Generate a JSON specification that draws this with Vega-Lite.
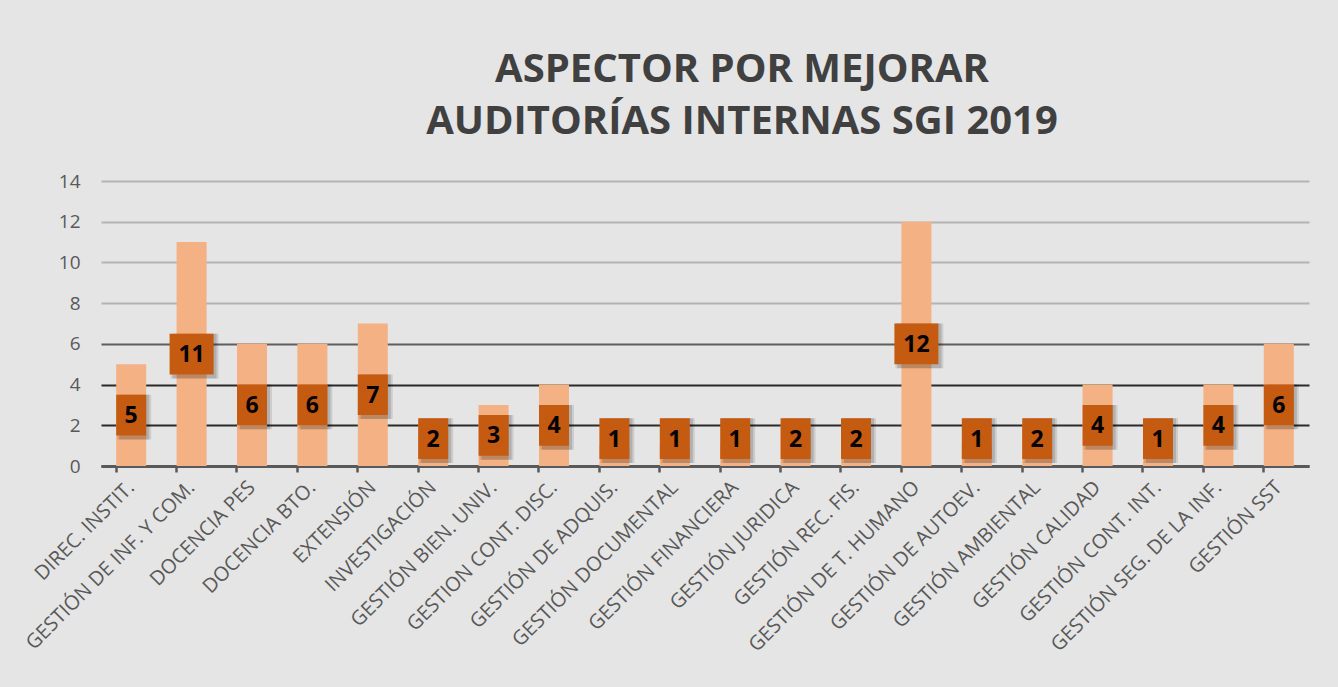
{
  "$schema": "https://vega.github.io/schema/vega-lite/v6.json",
  "width": 1208,
  "height": 285,
  "autosize": "none",
  "padding": {"left": 101, "top": 181, "right": 29, "bottom": 221},
  "background": "#e5e5e5",
  "title": {
    "text": ["ASPECTOR POR MEJORAR", "AUDITORÍAS INTERNAS SGI 2019"],
    "font": "Open Sans",
    "fontSize": 40,
    "fontWeight": "bold",
    "color": "#404040",
    "lineHeight": 52,
    "anchor": "middle",
    "dx": 37,
    "offset": 30
  },
  "data": {
    "values": [
      {"area": "DIREC. INSTIT.", "value": 5},
      {"area": "GESTIÓN DE INF. Y COM.", "value": 11},
      {"area": "DOCENCIA PES", "value": 6},
      {"area": "DOCENCIA BTO.", "value": 6},
      {"area": "EXTENSIÓN", "value": 7},
      {"area": "INVESTIGACIÓN", "value": 2},
      {"area": "GESTIÓN BIEN. UNIV.", "value": 3},
      {"area": "GESTION CONT. DISC.", "value": 4},
      {"area": "GESTIÓN DE ADQUIS.", "value": 1},
      {"area": "GESTIÓN DOCUMENTAL", "value": 1},
      {"area": "GESTIÓN FINANCIERA", "value": 1},
      {"area": "GESTIÓN JURIDICA", "value": 2},
      {"area": "GESTIÓN REC. FIS.", "value": 2},
      {"area": "GESTIÓN DE T. HUMANO", "value": 12},
      {"area": "GESTIÓN DE AUTOEV.", "value": 1},
      {"area": "GESTIÓN AMBIENTAL", "value": 2},
      {"area": "GESTIÓN CALIDAD", "value": 4},
      {"area": "GESTIÓN CONT. INT.", "value": 1},
      {"area": "GESTIÓN SEG. DE LA INF.", "value": 4},
      {"area": "GESTIÓN SST", "value": 6}
    ]
  },
  "transform": [
    {"calculate": "max(datum.value / 2, 1.35)", "as": "labelMid"},
    {"calculate": "datum.labelMid - 1", "as": "boxLo"},
    {"calculate": "datum.labelMid + 1", "as": "boxHi"}
  ],
  "encoding": {
    "x": {
      "field": "area",
      "type": "nominal",
      "sort": null,
      "title": null,
      "scale": {"paddingInner": 0.5, "paddingOuter": 0.25},
      "axis": {
        "labelAngle": -45,
        "labelAlign": "right",
        "labelBaseline": "middle",
        "labelFont": "Open Sans",
        "labelFontSize": 20,
        "labelColor": "#595959",
        "labelPadding": 12,
        "labelLimit": 400,
        "bandPosition": 0,
        "tickSize": 6,
        "tickWidth": 2.5,
        "tickColor": "#595959",
        "domainColor": "#595959",
        "domainWidth": 3,
        "grid": false
      }
    }
  },
  "layer": [
    {
      "mark": {"type": "bar", "color": "#F4B183"},
      "encoding": {
        "y": {
          "field": "value",
          "type": "quantitative",
          "title": null,
          "scale": {"domain": [0, 14], "nice": false},
          "axis": {
            "values": [0, 2, 4, 6, 8, 10, 12, 14],
            "labelFont": "Open Sans",
            "labelFontSize": 19,
            "labelColor": "#595959",
            "labelPadding": 21,
            "ticks": false,
            "domain": false,
            "grid": true,
            "gridWidth": 2,
            "gridColor": {
              "condition": [
                {"test": "datum.value <= 4", "value": "#2b2b2b"},
                {"test": "datum.value <= 6", "value": "#5e5e5e"}
              ],
              "value": "#b3b3b3"
            }
          }
        },
        "size": {"value": 30}
      }
    },
    {
      "mark": {"type": "bar", "color": "#000000", "opacity": 0.1, "xOffset": 3, "yOffset": 4},
      "encoding": {
        "y": {"field": "boxLo", "type": "quantitative"},
        "y2": {"field": "boxHi"},
        "size": {"condition": {"test": "datum.value >= 10", "value": 48}, "value": 34}
      }
    },
    {
      "mark": {"type": "bar", "color": "#000000", "opacity": 0.14, "xOffset": 3, "yOffset": 4},
      "encoding": {
        "y": {"field": "boxLo", "type": "quantitative"},
        "y2": {"field": "boxHi"},
        "size": {"condition": {"test": "datum.value >= 10", "value": 44}, "value": 30}
      }
    },
    {
      "mark": {"type": "bar", "color": "#C55A11"},
      "encoding": {
        "y": {"field": "boxLo", "type": "quantitative"},
        "y2": {"field": "boxHi"},
        "size": {"condition": {"test": "datum.value >= 10", "value": 44}, "value": 30}
      }
    },
    {
      "mark": {
        "type": "text",
        "font": "Open Sans",
        "fontSize": 23,
        "fontWeight": "bold",
        "color": "#000000",
        "baseline": "middle",
        "align": "center",
        "dy": 1
      },
      "encoding": {
        "y": {"field": "labelMid", "type": "quantitative"},
        "text": {"field": "value", "type": "quantitative"}
      }
    }
  ],
  "config": {"view": {"stroke": null}}
}
